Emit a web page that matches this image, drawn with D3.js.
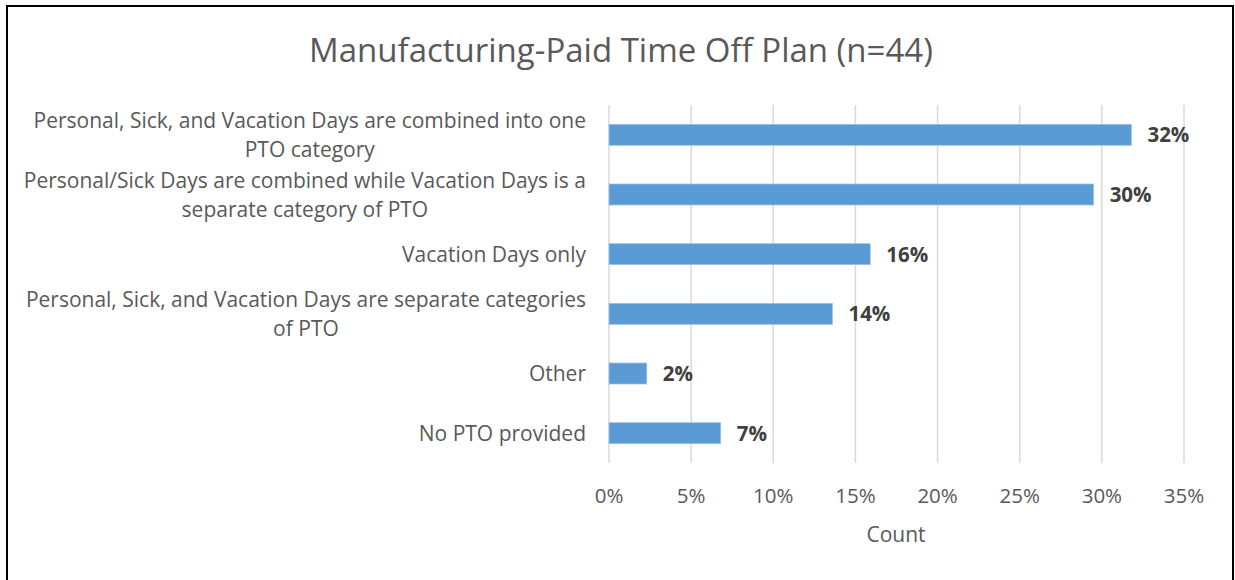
<!DOCTYPE html>
<html>
<head>
<meta charset="utf-8">
<script src="https://cdn.jsdelivr.net/npm/d3@7"></script>
<style>
	html, body { margin: 0; padding: 0; background: #fff; }
	svg { display: block; font-family: 'Open Sans', sans-serif; }
</style>
</head>
<body>
<div id="chart"></div>
<script>
// Manufacturing PTO plan, horizontal bar chart (Excel style)

const WIDTH = 1235;
const HEIGHT = 580;

const TITLE = 'Manufacturing-Paid Time Off Plan (n=44)';
const AXIS_TITLE = 'Count';

const categories = [
	'Personal, Sick, and Vacation Days are combined into one PTO category',
	'Personal/Sick Days are combined while Vacation Days is a separate category of PTO',
	'Vacation Days only',
	'Personal, Sick, and Vacation Days are separate categories of PTO',
	'Other',
	'No PTO provided'
];
// share of respondents (14, 13, 7, 6, 1, 3 out of 44)
const shares = [0.318, 0.295, 0.159, 0.136, 0.023, 0.068];
const tickValues = [0, 0.05, 0.10, 0.15, 0.20, 0.25, 0.30, 0.35];

const plot = {left: 609, right: 1184, top: 105, bottom: 463};
const TEXT = '#595959';

const svg = d3.select('#chart')
	.append('svg')
	.attr('width', WIDTH)
	.attr('height', HEIGHT);

svg.append('rect')
	.attr('width', WIDTH)
	.attr('height', HEIGHT)
	.attr('fill', '#fff');

// outer frame
svg.append('rect')
	.attr('x', 7)
	.attr('y', 6)
	.attr('width', 1226)
	.attr('height', 620)
	.attr('fill', 'none')
	.attr('stroke', '#000')
	.attr('stroke-width', 2);

svg.append('text')
	.attr('x', 621)
	.attr('y', 62)
	.attr('text-anchor', 'middle')
	.attr('fill', TEXT)
	.style('font-size', '33px')
	.text(TITLE);

const x = d3.scaleLinear()
	.domain([0, 0.35])
	.range([plot.left, plot.right]);

const y = d3.scaleBand()
	.domain(categories)
	.range([plot.top, plot.bottom])
	.paddingInner(0.648)
	.paddingOuter(0.324);

// gridlines
svg.append('g')
	.selectAll('line')
	.data(tickValues)
	.join('line')
	.attr('x1', d => x(d))
	.attr('x2', d => x(d))
	.attr('y1', plot.top)
	.attr('y2', plot.bottom)
	.attr('stroke', '#d9d9d9')
	.attr('stroke-width', 1.5);

// x tick labels
svg.append('g')
	.selectAll('text')
	.data(tickValues)
	.join('text')
	.attr('x', d => x(d))
	.attr('y', 503)
	.attr('text-anchor', 'middle')
	.attr('fill', TEXT)
	.style('font-size', '20.5px')
	.text(d3.format('.0%'));

svg.append('text')
	.attr('x', 896)
	.attr('y', 542)
	.attr('text-anchor', 'middle')
	.attr('fill', TEXT)
	.style('font-size', '21px')
	.text(AXIS_TITLE);

// bars
svg.append('g')
	.selectAll('rect')
	.data(shares)
	.join('rect')
	.attr('x', x(0))
	.attr('y', (d, i) => y(categories[i]))
	.attr('width', d => x(d) - x(0))
	.attr('height', y.bandwidth())
	.attr('fill', '#5b9bd5')
	.attr('stroke', '#9dc3e6')
	.attr('stroke-width', 0.75);

// data labels
svg.append('g')
	.selectAll('text')
	.data(shares)
	.join('text')
	.attr('x', d => x(d) + 16)
	.attr('y', (d, i) => y(categories[i]) + y.bandwidth() / 2 + 7.5)
	.attr('fill', '#404040')
	.style('font-size', '20.5px')
	.style('font-weight', 'bold')
	.text(d3.format('.0%'));

// category labels, wrapped like Excel does
const LABEL_RIGHT = 586;
const LABEL_WIDTH = 572;
const LINE_H = 29;

const catLabels = svg.append('g')
	.selectAll('text')
	.data(categories)
	.join('text')
	.attr('text-anchor', 'middle')
	.attr('fill', TEXT)
	.style('font-size', '21px');

catLabels.each(function(d) {
	const text = d3.select(this);
	const words = d.split(' ');
	const lines = [];
	let line = [];
	const probe = text.append('tspan');
	words.forEach(w => {
		line.push(w);
		probe.text(line.join(' '));
		if (probe.node().getComputedTextLength() > LABEL_WIDTH && line.length > 1) {
			line.pop();
			lines.push(line.join(' '));
			line = [w];
		}
	});
	lines.push(line.join(' '));
	probe.remove();

	// widest line decides the block; lines are centred inside it, block is right aligned
	const widths = lines.map(l => {
		const t = text.append('tspan').text(l);
		const w = t.node().getComputedTextLength();
		t.remove();
		return w;
	});
	const blockW = d3.max(widths);
	const cx = LABEL_RIGHT - blockW / 2;
	const cy = y(d) + y.bandwidth() / 2;
	lines.forEach((l, i) => {
		text.append('tspan')
			.attr('x', cx)
			.attr('y', cy - (lines.length - 1) * LINE_H / 2 + i * LINE_H + 7.5)
			.text(l);
	});
});
</script>
</body>
</html>
